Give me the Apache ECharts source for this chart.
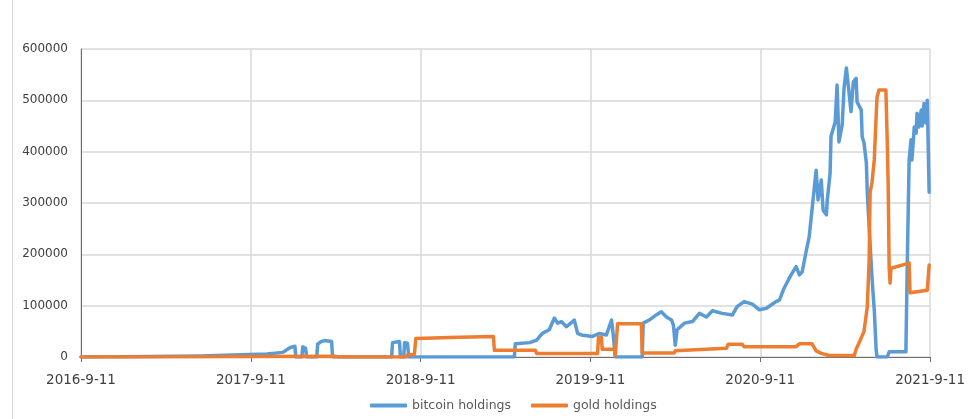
<!DOCTYPE html>
<html>
<head>
<meta charset="utf-8">
<script src="https://cdn.jsdelivr.net/npm/echarts@6/dist/echarts.min.js"></script>
<style>
html,body{margin:0;padding:0;background:#fff;}
#chart{width:968px;height:419px;}
</style>
</head>
<body>
<div id="chart"></div>
<script>
// x values are days counted from 2016-9-11
var xLabels = ['2016-9-11', '2017-9-11', '2018-9-11', '2019-9-11', '2020-9-11', '2021-9-11'];
var seriesNames = ['bitcoin holdings', 'gold holdings'];

var btcDays = [0,148,256,363,400,434,449,460,462,475,477,483,485,507,509,516,524,539,541,668,670,685,687,694,696,702,705,
	932,934,965,980,992,1007,1018,1025,1033,1044,1061,1068,1076,1100,1115,1130,1141,1145,1149,1207,1209,1222,1237,1248,1259,
	1270,1274,1278,1282,1298,1315,1330,1345,1358,1379,1401,1411,1426,1444,1459,1474,1495,1502,1512,1527,1538,1545,1551,1560,
	1566,1572,1581,1585,1592,1596,1603,1605,1611,1613,1622,1626,1630,1637,1641,1646,1650,1656,1661,1667,1669,1673,1678,1680,
	1684,1689,1691,1693,1699,1701,1706,1710,1712,1734,1738,1774,1777,1781,1785,1787,1792,1796,1798,1802,1807,1809,1813,1817,
	1820,1824];
var btcValues = [0,1000,2000,5000,6000,9000,18000,21000,0,0,20000,17000,0,0,25000,30000,32000,30000,0,0,28000,30000,0,0,28000,27000,0,
	0,26000,28000,33000,46000,53000,76000,66000,69000,59000,72000,46000,43000,40000,46000,43000,72000,40000,0,0,66000,72000,82000,88000,78000,
	72000,62000,23000,53000,66000,69000,85000,78000,90000,85000,82000,98000,108000,103000,92000,95000,108000,111000,134000,160000,176000,160000,166000,208000,
	234000,286000,364000,306000,345000,286000,277000,306000,358000,430000,458000,530000,419000,452000,524000,563000,530000,478000,536000,543000,497000,494000,481000,429000,
	417000,378000,320000,286000,189000,156000,92000,14000,0,0,10000,10000,183000,384000,423000,384000,448000,436000,475000,448000,481000,450000,494000,456000,
	500000,321000];

var goldDays = [0,99,101,546,556,700,702,717,720,793,887,889,977,980,1111,1113,1119,1121,1147,1149,1151,1154,1205,1207,1276,1278,
	1388,1392,1422,1426,1538,1545,1572,1581,1592,1609,1663,1667,1673,1684,1691,1695,1697,1701,1706,1710,1712,1716,1731,1734,1736,
	1738,1740,1742,1781,1783,1820,1824];
var goldValues = [0,0,2000,1500,0,0,4000,5000,36000,38000,40000,13000,13000,7000,7000,39000,39000,15000,15000,3000,3000,65000,65000,8000,8000,12000,
	17000,25000,25000,20000,20000,26000,26000,12000,7000,3000,3000,15000,27000,50000,98000,189000,320000,339000,384000,468000,506000,520000,520000,417000,331000,
	175000,144000,173000,183000,125000,130000,179000];

function pairs(days, values){
	var out = [];
	for(var i=0;i<days.length;i++){
		out.push([days[i], values[i]]);
	}
	return out;
}

var chart = echarts.init(document.getElementById('chart'));
var option = {
	animation:false,
	color:['#5B9BD5', '#ED7D31'],
	textStyle:{fontFamily:'DejaVu Sans'},
	graphic:[
		{type:'line', shape:{x1:12.5, y1:0, x2:12.5, y2:419}, style:{stroke:'#d9d9d9', lineWidth:1}}
	],
	grid:{left:81, right:37, top:49, bottom:62},
	legend:{
		left:365,
		top:394,
		itemWidth:37,
		itemHeight:4,
		itemGap:20,
		icon:'roundRect',
		textStyle:{color:'#595959', fontSize:12.5, fontFamily:'DejaVu Sans'},
		data:seriesNames
	},
	xAxis:{
		type:'value',
		min:0,
		max:1826,
		interval:365.2,
		axisLine:{show:true, lineStyle:{color:'#6e6e6e', width:1}},
		axisTick:{show:true, length:5, lineStyle:{color:'#6e6e6e'}},
		splitLine:{show:true, lineStyle:{color:'#d9d9d9', width:1.5}},
		axisLabel:{
			color:'#404040',
			fontSize:13.5,
			margin:16,
			fontFamily:'DejaVu Sans',
			formatter:function(v){
				return xLabels[Math.round(v/365.2)];
			}
		}
	},
	yAxis:{
		type:'value',
		min:0,
		max:600000,
		interval:100000,
		axisLine:{show:true, lineStyle:{color:'#6e6e6e', width:1}},
		axisTick:{show:false},
		splitLine:{lineStyle:{color:'#d9d9d9', width:1.5}},
		axisLabel:{
			color:'#404040',
			fontSize:12,
			margin:13,
			fontFamily:'DejaVu Sans',
			formatter:function(v){
				return String(v);
			}
		}
	},
	series:[
		{
			name:seriesNames[0],
			type:'line',
			symbol:'none',
			lineStyle:{width:3.5, join:'round', cap:'round'},
			data:pairs(btcDays, btcValues)
		},
		{
			name:seriesNames[1],
			type:'line',
			symbol:'none',
			lineStyle:{width:3.5, join:'round', cap:'round'},
			data:pairs(goldDays, goldValues)
		}
	]
};
chart.setOption(option);
</script>
</body>
</html>
